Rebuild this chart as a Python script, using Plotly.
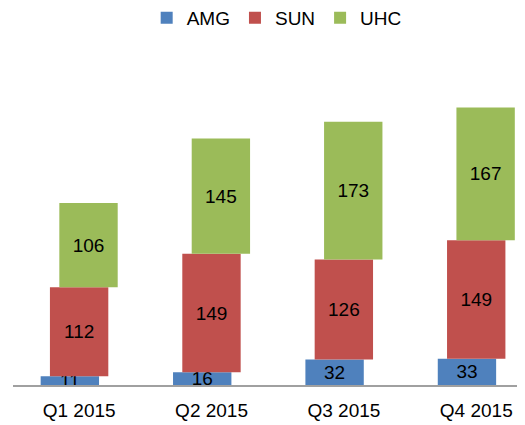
import plotly.graph_objects as go

quarters = ["Q1 2015", "Q2 2015", "Q3 2015", "Q4 2015"]
amg = [11, 16, 32, 33]
sun = [112, 149, 126, 149]
uhc = [106, 145, 173, 167]

## bases for the stacked segments
sun_base = amg
uhc_base = [a + s for a, s in zip(amg, sun)]

FONT = "Liberation Sans"
bar_w = 0.441

fig = go.Figure()

fig.add_trace(go.Bar(name="AMG", x=quarters, y=amg, base=[0]*4,
                     width=bar_w, offset=-0.291,
                     marker=dict(color="#4F81BD", line=dict(width=0)),
                     text=amg))
fig.add_trace(go.Bar(name="SUN", x=quarters, y=sun, base=sun_base,
                     width=bar_w, offset=-0.221,
                     marker=dict(color="#C0504D", line=dict(width=0)),
                     text=sun))
fig.add_trace(go.Bar(name="UHC", x=quarters, y=uhc, base=uhc_base,
                     width=bar_w, offset=-0.150,
                     marker=dict(color="#9BBB59", line=dict(width=0)),
                     text=uhc))
fig.update_traces(textposition="inside", insidetextanchor="middle",
                  constraintext="none", textangle=0, cliponaxis=False,
                  textfont=dict(color="black", size=19, family=FONT))

# page body has an 8px margin, so the figure is 8px smaller
fig.update_layout(width=517,
                  height=417,
                  barmode="overlay",
                  margin=dict(l=5, r=0, t=37, b=40, autoexpand=False),
                  paper_bgcolor="white",
                  plot_bgcolor="white",
                  font=dict(family=FONT, size=19, color="black"),
                  legend=dict(orientation="h", x=0.515, xanchor="center",
                              y=1.08, yanchor="middle", yref="paper",
                              font=dict(size=19), traceorder="normal"))

fig.update_xaxes(range=[-0.5, 3.368], showline=True, linecolor="#A0A0A0",
                 linewidth=1.5, showgrid=False, ticks="",
                 ticklabelstandoff=7,
                 tickfont=dict(size=19, color="black", family=FONT))
fig.update_yaxes(range=[0, 427.7], visible=False, showgrid=False)

fig.write_html("out.html")
